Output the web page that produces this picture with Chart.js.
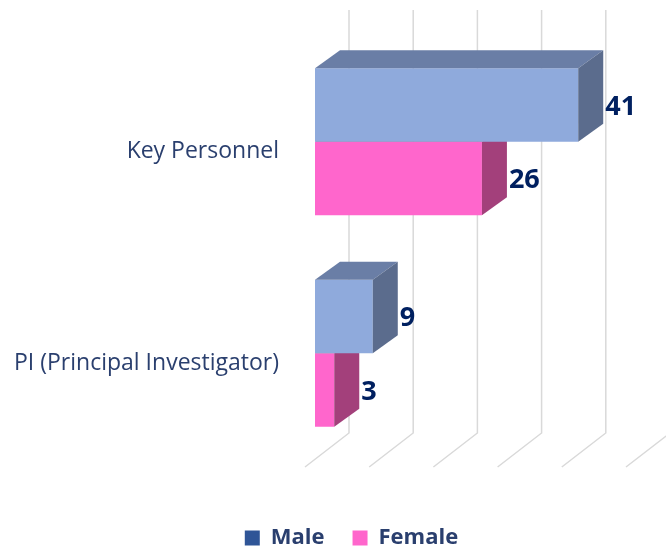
<!DOCTYPE html>
<html>
<head>
<meta charset="utf-8">
<script src="https://cdn.jsdelivr.net/npm/chart.js@4"></script>
<style>
  html, body { margin: 0; padding: 0; background: #fff; }
  #wrap { width: 666px; height: 549px; }
</style>
</head>
<body>
<div id="wrap"><canvas id="myChart" width="666" height="549"></canvas></div>
<script>
// datos
const categorias = ['Key Personnel', 'PI (Principal Investigator)'];
const series = ['Male', 'Female'];
const valoresMale = [41, 9];
const valoresFemale = [26, 3];
const marcasX = [0, 10, 20, 30, 40, 50];

// colores: frente, cara superior, cara lateral, leyenda
const coloresMale = ['#8FAADC', '#6A7EA6', '#5B6C8D', '#2F5597'];
const coloresFemale = ['#FF66CC', '#C0508F', '#A3407B', '#FF66CC'];

const fuente = "'Open Sans', 'Noto Sans', sans-serif";
const prof = { dx: 25, dy: 18 };      // profundidad de las barras
const fondo = { dx: 34, dy: 26 };     // plano trasero de la rejilla
const frente = { dx: 10, dy: 8 };     // borde delantero del piso

// rejilla en perspectiva (detras de las barras)
const rejilla3d = {
  id: 'rejilla3d',
  afterLayout(chart) {
    // la leyenda del original esta algo desplazada a la derecha
    chart.legend.left += 67;
  },
  beforeDatasetsDraw(chart) {
    const ctx = chart.ctx;
    const area = chart.chartArea;
    const xs = chart.scales.x;
    ctx.save();
    ctx.strokeStyle = '#D9D9D9';
    ctx.lineWidth = 1.5;
    marcasX.forEach(v => {
      const px = xs.getPixelForValue(v);
      ctx.beginPath();
      ctx.moveTo(px + fondo.dx, area.top - fondo.dy);
      ctx.lineTo(px + fondo.dx, area.bottom - fondo.dy);
      ctx.lineTo(px - frente.dx, area.bottom + frente.dy);
      ctx.stroke();
    });
    ctx.restore();
  },
  afterDatasetDraw(chart, args) {
    const ctx = chart.ctx;
    const col = args.index === 0 ? coloresMale : coloresFemale;
    ctx.save();
    args.meta.data.forEach(bar => {
      const p = bar.getProps(['x', 'y', 'base', 'height'], true);
      const top = p.y - p.height / 2;
      const bot = p.y + p.height / 2;
      const l = p.base, r = p.x;
      // cara superior
      ctx.fillStyle = col[1];
      ctx.beginPath();
      ctx.moveTo(l, top);
      ctx.lineTo(l + prof.dx, top - prof.dy);
      ctx.lineTo(r + prof.dx, top - prof.dy);
      ctx.lineTo(r, top);
      ctx.closePath();
      ctx.fill();
      // cara lateral
      ctx.fillStyle = col[2];
      ctx.beginPath();
      ctx.moveTo(r, top);
      ctx.lineTo(r + prof.dx, top - prof.dy);
      ctx.lineTo(r + prof.dx, bot - prof.dy);
      ctx.lineTo(r, bot);
      ctx.closePath();
      ctx.fill();
    });
    ctx.restore();
  },
  afterDatasetsDraw(chart) {
    const ctx = chart.ctx;
    ctx.save();
    ctx.fillStyle = '#002060';
    ctx.font = "bold 27px " + fuente;
    ctx.textAlign = 'left';
    ctx.textBaseline = 'middle';
    chart.data.datasets.forEach((ds, i) => {
      chart.getDatasetMeta(i).data.forEach((bar, j) => {
        ctx.fillText(ds.data[j], bar.x + prof.dx + 2, bar.y + 2);
      });
    });
    ctx.restore();
  }
};

new Chart(document.getElementById('myChart'), {
  type: 'bar',
  data: {
    labels: categorias,
    datasets: [
      { label: series[0], data: valoresMale, backgroundColor: coloresMale[0], borderWidth: 0 },
      { label: series[1], data: valoresFemale, backgroundColor: coloresFemale[0], borderWidth: 0 }
    ]
  },
  options: {
    indexAxis: 'y',
    responsive: false,
    animation: false,
    categoryPercentage: 0.695,
    barPercentage: 1,
    layout: { padding: { top: 36, right: 30, left: 0, bottom: -10 } },
    scales: {
      x: {
        min: 0, max: 50,
        display: false
      },
      y: {
        grid: { display: false },
        border: { display: false },
        afterFit(scale) {
          scale.width = 315;
          scale.paddingTop = 0;
          scale.paddingBottom = 0;
        },
        ticks: {
          padding: 28,
          labelOffset: 10,
          color: '#2A3F6E',
          font: { family: fuente, size: 23 }
        }
      }
    },
    plugins: {
      tooltip: { enabled: false },
      legend: {
        position: 'bottom',
        title: { display: true, text: ' ', font: { size: 10 }, padding: { top: 28, bottom: 0 } },
        labels: {
          boxWidth: 15,
          boxHeight: 15,
          padding: 28,
          color: '#2A3F6E',
          font: { family: fuente, size: 22, weight: 'bold' },
          generateLabels(chart) {
            return chart.data.datasets.map((ds, i) => ({
              text: ds.label,
              fillStyle: i === 0 ? coloresMale[3] : coloresFemale[3],
              strokeStyle: 'rgba(0,0,0,0)',
              lineWidth: 0,
              datasetIndex: i,
              fontColor: '#2A3F6E'
            }));
          }
        }
      }
    }
  },
  plugins: [rejilla3d]
});
</script>
</body>
</html>
